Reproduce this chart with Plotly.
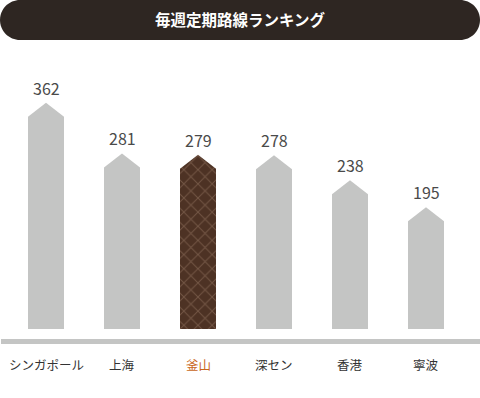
import plotly.graph_objects as go

categories = ["シンガポール", "上海", "釜山", "深セン", "香港", "寧波"]
values = [362, 281, 279, 278, 238, 195]
highlight = "釜山"
title_text = "毎週定期路線ランキング"

W, H = 480, 398
# pixel geometry
x_first_px = 46
x_step_px = 76
bar_half_px = 18
base_px = 329
scale = 0.625          # px per unit
cap_px = 14

x0 = -x_first_px / x_step_px
x1 = (W - x_first_px) / x_step_px
y_lo = -(H - base_px) / scale
y_hi = base_px / scale
w = bar_half_px / x_step_px
cap = cap_px / scale

GRAY = "#c4c5c4"
fig = go.Figure()
for i, (c, v) in enumerate(zip(categories, values)):
    xs = [i - w, i - w, i, i + w, i + w, i - w]
    ys = [0, v - cap, v, v - cap, 0, 0]
    if c == highlight:
        fig.add_trace(go.Scatter(
            x=xs, y=ys, mode="lines", fill="toself", line=dict(width=0, color="#4d3224"),
            fillcolor="#4d3224",
            fillpattern=dict(shape="x", bgcolor="#4d3224", fgcolor="#9a7a66", size=10, solidity=0.18),
            hoverinfo="skip", showlegend=False))
    else:
        fig.add_trace(go.Scatter(
            x=xs, y=ys, mode="lines", fill="toself", line=dict(width=0, color=GRAY),
            fillcolor=GRAY, hoverinfo="skip", showlegend=False))

annotations = []
for i, (c, v) in enumerate(zip(categories, values)):
    annotations.append(dict(x=i, y=v, xref="x", yref="y", text=str(v), showarrow=False,
                            yshift=15, yanchor="middle",
                            font=dict(family="Noto Sans CJK JP, sans-serif", size=16, color="#4a4a4a")))
    annotations.append(dict(x=i, y=1 - 364 / H, xref="x", yref="paper", text=c, showarrow=False,
                            yanchor="middle",
                            font=dict(family="Noto Sans CJK JP, sans-serif", size=12.5,
                                      color="#c8661a" if c == highlight else "#333333")))

annotations.append(dict(x=0.5, y=1 - 19 / H, xref="paper", yref="paper",
                        text="<b>" + title_text + "</b>", showarrow=False, yanchor="middle",
                        font=dict(family="Noto Sans CJK JP, sans-serif", size=15.5, color="#ffffff")))

# title pill path in paper coords
def px(x):
    return x / W
def py(y):
    return 1 - y / H
r = 20
top, bot = 0, 40
left, right = 0, 480
k = 0.5523 * r
path = (f"M {px(left + r)},{py(top)} L {px(right - r)},{py(top)} "
        f"C {px(right - r + k)},{py(top)} {px(right)},{py(top + r - k)} {px(right)},{py(top + r)} "
        f"C {px(right)},{py(bot - r + k)} {px(right - r + k)},{py(bot)} {px(right - r)},{py(bot)} "
        f"L {px(left + r)},{py(bot)} "
        f"C {px(left + r - k)},{py(bot)} {px(left)},{py(bot - r + k)} {px(left)},{py(bot - r)} "
        f"C {px(left)},{py(top + r - k)} {px(left + r - k)},{py(top)} {px(left + r)},{py(top)} Z")

shapes = [
    dict(type="path", xref="paper", yref="paper", path=path, fillcolor="#2e2622",
         line=dict(width=0), layer="above"),
    dict(type="rect", xref="paper", yref="paper", x0=px(1), x1=1, y0=py(344), y1=py(339),
         fillcolor=GRAY, line=dict(width=0)),
]

fig.update_layout(
    width=W, height=H, margin=dict(l=0, r=0, t=0, b=0),
    paper_bgcolor="white", plot_bgcolor="white",
    xaxis=dict(range=[x0, x1], visible=False, fixedrange=True),
    yaxis=dict(range=[y_lo, y_hi], visible=False, fixedrange=True),
    shapes=shapes, annotations=annotations, showlegend=False,
)

fig.write_html("out.html", config={"displayModeBar": False},
               post_script="document.body.style.margin='0';document.body.style.overflow='hidden';")
